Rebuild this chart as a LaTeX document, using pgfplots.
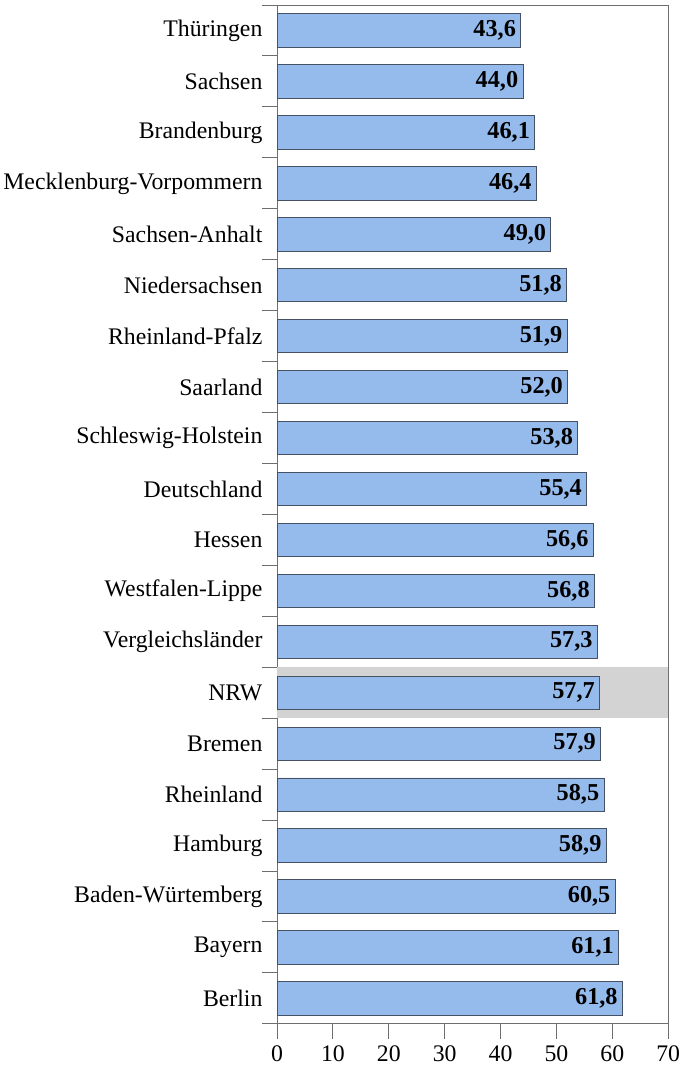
\documentclass[border=0pt]{standalone}
\usepackage{pgfplots}
\pgfplotsset{compat=1.18}
\usepackage{fontspec}
\setmainfont{Liberation Serif}
\definecolor{barfill}{RGB}{149,187,237}
\definecolor{baredge}{RGB}{70,82,100}
\definecolor{framec}{RGB}{110,110,110}
\definecolor{bandc}{RGB}{211,211,211}
\begin{document}
\begin{tikzpicture}
\begin{axis}[
    xbar,
    width=387pt, height=1008pt,
    scale only axis,
    xmin=0, xmax=70,
    ymin=-0.5, ymax=19.5,
    y dir=reverse,
    xtick={0,10,...,70},
    ytick={0,...,19},
    yticklabels={Thüringen, Sachsen, Brandenburg, Mecklenburg-Vorpommern, Sachsen-Anhalt, Niedersachsen, Rheinland-Pfalz, Saarland, Schleswig-Holstein, Deutschland, Hessen, Westfalen-Lippe, Vergleichsländer, NRW, Bremen, Rheinland, Hamburg, Baden-Würtemberg, Bayern, Berlin},
    minor ytick={-0.5,0.5,...,19.5},
    xtick pos=bottom,
    ytick pos=left,
    tick align=outside,
    major tick length=15pt,
    minor tick length=15pt,
    major y tick style={draw=none},
    tick style={framec, line width=1pt},
    axis line style={framec, line width=1pt},
    tick label style={font=\fontsize{23.5}{27}\selectfont, /pgf/number format/assume math mode=true},
    xticklabel style={yshift=-3pt},
    yticklabel style={xshift=4pt},
    bar width=33pt,
    nodes near coords={\pgfmathprintnumber[fixed, fixed zerofill, precision=1, use comma, assume math mode=true]{\pgfplotspointmeta}},
    every node near coord/.append style={anchor=east, xshift=-1pt, font=\fontsize{24}{27}\selectfont\bfseries},
]
\fill[bandc] (axis cs:0,12.5) rectangle (axis cs:70,13.5);
\addplot[fill=barfill, draw=baredge, line width=0.8pt] coordinates {
(43.6,0) (44.0,1) (46.1,2) (46.4,3) (49.0,4) (51.8,5) (51.9,6) (52.0,7) (53.8,8) (55.4,9)
(56.6,10) (56.8,11) (57.3,12) (57.7,13) (57.9,14) (58.5,15) (58.9,16) (60.5,17) (61.1,18) (61.8,19)
};
\end{axis}
\path ([yshift=5pt]current axis.north);
\end{tikzpicture}
\end{document}
